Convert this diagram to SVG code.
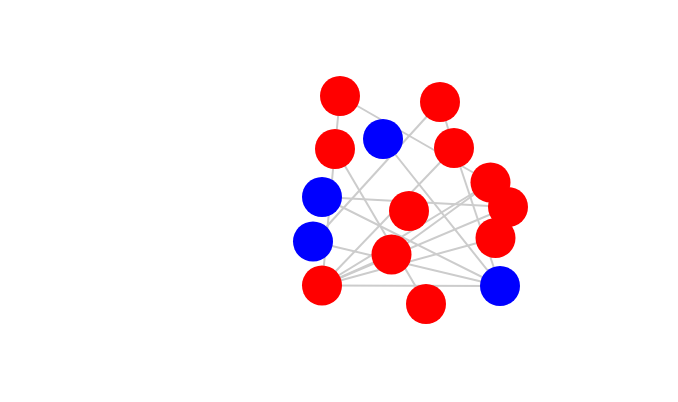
<svg xmlns="http://www.w3.org/2000/svg" width="678" height="402" viewBox="0 0 678 402">
<style>
.e{stroke:#cccccc;stroke-width:2;fill:none}
.r{fill:#ff0000}
.b{fill:#0000ff}
</style>
<rect width="678" height="402" fill="#ffffff"/>
<g id="edges">
<line class="e" x1="340" y1="96" x2="322" y2="285.5"/>
<line class="e" x1="340" y1="96" x2="490.5" y2="182.5"/>
<line class="e" x1="440" y1="102" x2="454" y2="148"/>
<line class="e" x1="440" y1="102" x2="313" y2="241.5"/>
<line class="e" x1="383" y1="139" x2="500" y2="286"/>
<line class="e" x1="335" y1="149" x2="426" y2="304"/>
<line class="e" x1="454" y1="148" x2="322" y2="285.5"/>
<line class="e" x1="454" y1="148" x2="500" y2="286"/>
<line class="e" x1="322" y1="197" x2="508" y2="207"/>
<line class="e" x1="322" y1="197" x2="500" y2="286"/>
<line class="e" x1="313" y1="241.5" x2="500" y2="286"/>
<line class="e" x1="391.5" y1="254.5" x2="322" y2="285.5"/>
<line class="e" x1="391.5" y1="254.5" x2="490.5" y2="182.5"/>
<line class="e" x1="322" y1="285.5" x2="490.5" y2="182.5"/>
<line class="e" x1="322" y1="285.5" x2="508" y2="207"/>
<line class="e" x1="322" y1="285.5" x2="495.5" y2="238"/>
<line class="e" x1="322" y1="285.5" x2="500" y2="286"/>
</g>
<g id="nA"><circle class="r" cx="340" cy="96" r="20"/></g>
<g id="nB"><circle class="r" cx="440" cy="102" r="20"/></g>
<g id="nC"><circle class="b" cx="383" cy="139" r="20"/></g>
<g id="nD"><circle class="r" cx="335" cy="149" r="20"/></g>
<g id="nE"><circle class="r" cx="454" cy="148" r="20"/></g>
<g id="nF"><circle class="r" cx="490.5" cy="182.5" r="20"/></g>
<g id="nG"><circle class="b" cx="322" cy="197" r="20"/></g>
<g id="nH"><circle class="r" cx="508" cy="207" r="20"/></g>
<g id="nI"><circle class="r" cx="409" cy="211" r="20"/></g>
<g id="nJ"><circle class="b" cx="313" cy="241.5" r="20"/></g>
<g id="nK"><circle class="r" cx="495.5" cy="238" r="20"/></g>
<g id="nL"><circle class="r" cx="391.5" cy="254.5" r="20"/></g>
<g id="nM"><circle class="r" cx="322" cy="285.5" r="20"/></g>
<g id="nN"><circle class="b" cx="500" cy="286" r="20"/></g>
<g id="nO"><circle class="r" cx="426" cy="304" r="20"/></g>
</svg>
